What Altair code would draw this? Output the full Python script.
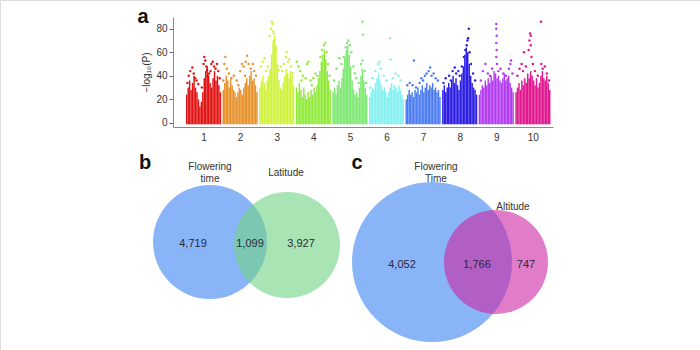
import altair as alt
import pandas as pd

# ---------------- Panel a: Manhattan plot ----------------
chromosomes = ["1", "2", "3", "4", "5", "6", "7", "8", "9", "10"]
chrom_colors = ["#e01414", "#e8922c", "#d0f23e", "#92ea3c", "#7ee873",
                "#84f0f0", "#4c7cf0", "#2c1ee4", "#b43cf0", "#e0168e"]

# height of the dense (solid) band along each chromosome, -log10(P)
chr1_dense = [24, 30, 36, 28, 34, 40, 30, 26, 20, 14, 18, 26, 38, 44, 48, 40, 34, 30, 38, 44, 36, 40, 32, 26]
chr2_dense = [28, 34, 40, 36, 30, 38, 32, 28, 26, 22, 26, 30, 28, 24, 30, 34, 38, 32, 40, 44, 36, 38, 32, 26]
chr3_dense = [30, 36, 40, 34, 28, 36, 40, 46, 58, 70, 74, 66, 50, 36, 30, 28, 34, 40, 46, 42, 38, 44, 40, 32]
chr4_dense = [30, 26, 34, 28, 22, 30, 24, 20, 26, 22, 28, 24, 30, 26, 32, 38, 44, 52, 58, 62, 54, 44, 36, 28]
chr5_dense = [26, 30, 24, 32, 36, 30, 38, 46, 56, 62, 66, 58, 48, 36, 28, 24, 26, 22, 30, 40, 46, 36, 30, 24]
chr6_dense = [22, 26, 30, 28, 34, 38, 42, 36, 32, 28, 30, 26, 22, 26, 30, 34, 28, 32, 30, 26, 32, 28, 24, 20]
chr7_dense = [20, 24, 28, 24, 26, 22, 28, 26, 30, 24, 28, 32, 26, 30, 34, 28, 32, 30, 34, 28, 30, 26, 28, 22]
chr8_dense = [28, 32, 26, 30, 34, 30, 36, 40, 34, 38, 32, 28, 36, 42, 48, 58, 64, 60, 50, 40, 34, 30, 28, 24]
chr9_dense = [24, 28, 32, 30, 36, 32, 38, 34, 40, 36, 44, 42, 38, 40, 36, 34, 38, 42, 36, 38, 40, 34, 30, 26]
chr10_dense = [26, 30, 34, 28, 36, 32, 38, 34, 42, 38, 44, 40, 36, 32, 38, 30, 34, 40, 44, 38, 36, 40, 34, 28]

# scattered SNPs above the dense band: (relative position on chromosome, -log10(P))
chr1_peaks = [(0.08, 40), (0.12, 44), (0.18, 47), (0.22, 42), (0.3, 36), (0.35, 33), (0.45, 30),
              (0.5, 50), (0.52, 56), (0.55, 53), (0.58, 48), (0.6, 45), (0.66, 42), (0.72, 50),
              (0.76, 52), (0.8, 48), (0.84, 46), (0.88, 50), (0.92, 44), (0.96, 38),
              (0.04, 34), (0.26, 38), (0.62, 40), (0.7, 44)]
chr2_peaks = [(0.05, 50), (0.08, 56), (0.12, 46), (0.18, 42), (0.25, 38), (0.32, 40), (0.4, 36),
              (0.5, 44), (0.55, 50), (0.6, 48), (0.66, 52), (0.7, 57), (0.74, 50), (0.8, 46),
              (0.86, 50), (0.9, 44), (0.95, 40), (0.02, 36), (0.45, 32), (0.64, 40)]
chr3_peaks = [(0.05, 48), (0.1, 52), (0.15, 55), (0.2, 44), (0.3, 74), (0.34, 80), (0.36, 86),
              (0.38, 84), (0.4, 78), (0.42, 76), (0.44, 70), (0.48, 62), (0.55, 45), (0.62, 48),
              (0.7, 50), (0.76, 56), (0.78, 60), (0.82, 52), (0.86, 54), (0.9, 48), (0.95, 42),
              (0.25, 48), (0.66, 44)]
chr4_peaks = [(0.03, 52), (0.08, 48), (0.12, 44), (0.2, 40), (0.28, 38), (0.32, 50), (0.36, 52),
              (0.42, 36), (0.5, 38), (0.56, 42), (0.62, 40), (0.7, 56), (0.75, 62), (0.8, 66),
              (0.84, 68), (0.88, 60), (0.92, 50), (0.16, 36), (0.46, 32), (0.96, 40)]
chr5_peaks = [(0.05, 36), (0.12, 46), (0.2, 55), (0.26, 50), (0.32, 56), (0.38, 64), (0.42, 68),
              (0.46, 70), (0.5, 66), (0.54, 60), (0.6, 48), (0.68, 38), (0.75, 34), (0.82, 50),
              (0.86, 53), (0.86, 86), (0.87, 75), (0.92, 44), (0.64, 42), (0.96, 34)]
chr6_peaks = [(0.1, 38), (0.18, 44), (0.26, 50), (0.3, 52), (0.34, 46), (0.42, 40), (0.6, 72),
              (0.62, 54), (0.68, 38), (0.76, 42), (0.84, 40), (0.9, 36), (0.5, 36), (0.04, 30)]
chr7_peaks = [(0.05, 32), (0.12, 34), (0.24, 53), (0.3, 30), (0.4, 34), (0.5, 36), (0.55, 40),
              (0.6, 42), (0.66, 44), (0.7, 47), (0.74, 40), (0.8, 42), (0.86, 38), (0.92, 36),
              (0.2, 32), (0.45, 38)]
chr8_peaks = [(0.04, 34), (0.1, 38), (0.2, 40), (0.3, 44), (0.36, 47), (0.4, 42), (0.5, 40),
              (0.56, 48), (0.62, 56), (0.66, 62), (0.7, 66), (0.72, 70), (0.74, 72), (0.76, 80),
              (0.78, 60), (0.82, 50), (0.88, 42), (0.94, 36), (0.25, 36), (0.46, 44)]
chr9_peaks = [(0.06, 36), (0.12, 44), (0.19, 50), (0.26, 42), (0.38, 46), (0.5, 84), (0.5, 80),
              (0.51, 74), (0.5, 68), (0.51, 62), (0.5, 56), (0.52, 50), (0.56, 44), (0.62, 46),
              (0.7, 42), (0.78, 40), (0.86, 46), (0.9, 50), (0.92, 53), (0.96, 42), (0.32, 40)]
chr10_peaks = [(0.06, 40), (0.12, 46), (0.18, 50), (0.25, 60), (0.3, 48), (0.38, 62), (0.4, 70),
               (0.42, 76), (0.44, 74), (0.44, 66), (0.46, 56), (0.5, 50), (0.56, 44), (0.64, 40),
               (0.73, 86), (0.74, 50), (0.78, 46), (0.84, 48), (0.9, 42), (0.96, 36), (0.22, 44)]

y_ticks = [0, 20, 40, 60, 80]

# ---------------- Panels b and c: Venn diagrams ----------------
venn_sets = ["Flowering time (b)", "Latitude", "Flowering Time (c)", "Altitude"]
venn_cx = [210, 287, 432, 496]
venn_cy = [242, 245, 262, 262]
venn_r = [57, 53, 80, 52]
venn_colors = ["#8ab4f8", "#72d386", "#8ab4f8", "#cb25a3"]
venn_opacity = [1.0, 0.62, 1.0, 0.6]

set_label_text = ["Flowering", "time", "Latitude", "Flowering", "Time", "Altitude"]
set_label_x = [210, 210, 286, 436, 436, 513]
set_label_y = [167, 179, 173, 167, 179, 207]

count_text = ["4,719", "1,099", "3,927", "4,052", "1,766", "747"]
count_x = [193, 250, 301, 402, 477, 526]
count_y = [244, 244, 244, 265, 265, 265]

panel_letters = ["a", "b", "c"]
panel_x = [143, 145, 357]
panel_y = [17, 163, 163]

# ---------------- build tables ----------------
dense_lists = [chr1_dense, chr2_dense, chr3_dense, chr4_dense, chr5_dense,
               chr6_dense, chr7_dense, chr8_dense, chr9_dense, chr10_dense]
peak_lists = [chr1_peaks, chr2_peaks, chr3_peaks, chr4_peaks, chr5_peaks,
              chr6_peaks, chr7_peaks, chr8_peaks, chr9_peaks, chr10_peaks]
SPAN = 0.96

dense_rows = []
for k, (vals, col) in enumerate(zip(dense_lists, chrom_colors)):
    n = len(vals)
    for i, v in enumerate(vals):
        dense_rows.append({"x": k + i * SPAN / n, "x2": k + (i + 1) * SPAN / n,
                           "y": -1.2, "y2": v, "color": col, "chrom": chromosomes[k]})
dense_df = pd.DataFrame(dense_rows)

peak_rows = []
for k, (pts, col) in enumerate(zip(peak_lists, chrom_colors)):
    for f, v in pts:
        peak_rows.append({"x": k + f * SPAN, "y": v, "color": col, "chrom": chromosomes[k]})
peak_df = pd.DataFrame(peak_rows)

venn_df = pd.DataFrame({"set": venn_sets, "cx": venn_cx, "cy": venn_cy, "r": venn_r,
                        "color": venn_colors, "opacity": venn_opacity})
# Vega symbol size is the bounding-box area: (2r)^2
venn_df["area"] = [(2 * r) ** 2 for r in venn_r]
label_df = pd.DataFrame({"t": set_label_text, "x": set_label_x, "y": set_label_y})
count_df = pd.DataFrame({"t": count_text, "x": count_x, "y": count_y})
letter_df = pd.DataFrame({"t": panel_letters, "x": panel_x, "y": panel_y})

FONT = "Liberation Sans"

# ---------------- Manhattan layer ----------------
mx_scale = alt.Scale(domain=[-0.355, 10.03], range=[173, 553], nice=False, zero=False)
my_scale = alt.Scale(domain=[-3.5, 90], range=[127, 17], nice=False, zero=False)
x_axis = alt.Axis(orient="bottom", offset=-223, values=[k + SPAN / 2 for k in range(10)],
                  labelExpr="'' + round(datum.value + 0.52)", ticks=False, grid=False,
                  domainColor="#8a8a8a", labelColor="#333333", labelFontSize=10,
                  labelPadding=5, title=None, labelFont=FONT)
y_axis = alt.Axis(orient="left", offset=-173, values=y_ticks, grid=False, tickSize=4,
                  tickColor="#666666", domainColor="#8a8a8a", labelColor="#333333",
                  labelFontSize=10, labelPadding=2, title="−log₁₀(P)", titleFontSize=10,
                  titleFontWeight="normal", titleColor="#333333", titlePadding=4,
                  labelFont=FONT, titleFont=FONT)

dense = alt.Chart(dense_df).mark_rect().encode(
    x=alt.X("x:Q", scale=mx_scale, axis=x_axis),
    x2="x2:Q",
    y=alt.Y("y:Q", scale=my_scale, axis=y_axis),
    y2="y2:Q",
    color=alt.Color("color:N", scale=None),
)
peaks = alt.Chart(peak_df).mark_circle(size=6, opacity=1).encode(
    x=alt.X("x:Q", scale=mx_scale, axis=x_axis),
    y=alt.Y("y:Q", scale=my_scale, axis=y_axis),
    color=alt.Color("color:N", scale=None),
)
manhattan = alt.layer(dense, peaks)

# ---------------- Venn layer ----------------
vx = alt.Scale(domain=[0, 700], range=[0, 700], nice=False, zero=False)
vy = alt.Scale(domain=[0, 350], range=[0, 350], nice=False, zero=False)

circles = alt.Chart(venn_df).mark_circle(strokeWidth=0).encode(
    x=alt.X("cx:Q", scale=vx, axis=None),
    y=alt.Y("cy:Q", scale=vy, axis=None),
    size=alt.Size("area:Q", scale=None),
    color=alt.Color("color:N", scale=None),
    opacity=alt.Opacity("opacity:Q", scale=None),
    order=alt.Order("cx:Q"),
)
set_labels = alt.Chart(label_df).mark_text(fontSize=10, font=FONT, color="#333333",
                                           baseline="middle").encode(
    x=alt.X("x:Q", scale=vx, axis=None), y=alt.Y("y:Q", scale=vy, axis=None), text="t:N")
counts = alt.Chart(count_df).mark_text(fontSize=11, font=FONT, color="#2a2a3a",
                                       baseline="middle").encode(
    x=alt.X("x:Q", scale=vx, axis=None), y=alt.Y("y:Q", scale=vy, axis=None), text="t:N")
letters = alt.Chart(letter_df).mark_text(fontSize=20, font=FONT, fontWeight="bold",
                                         color="#111111", baseline="middle").encode(
    x=alt.X("x:Q", scale=vx, axis=None), y=alt.Y("y:Q", scale=vy, axis=None), text="t:N")
venn = alt.layer(circles, set_labels, counts, letters)

chart = alt.layer(manhattan, venn).resolve_scale(x="independent", y="independent").properties(
    width=700, height=350,
    autosize=alt.AutoSizeParams(type="none"),
    padding=0,
    background="white",
).configure_view(stroke=None).configure(font=FONT)

chart.save("out.html", embed_options={"renderer": "svg", "actions": False})
